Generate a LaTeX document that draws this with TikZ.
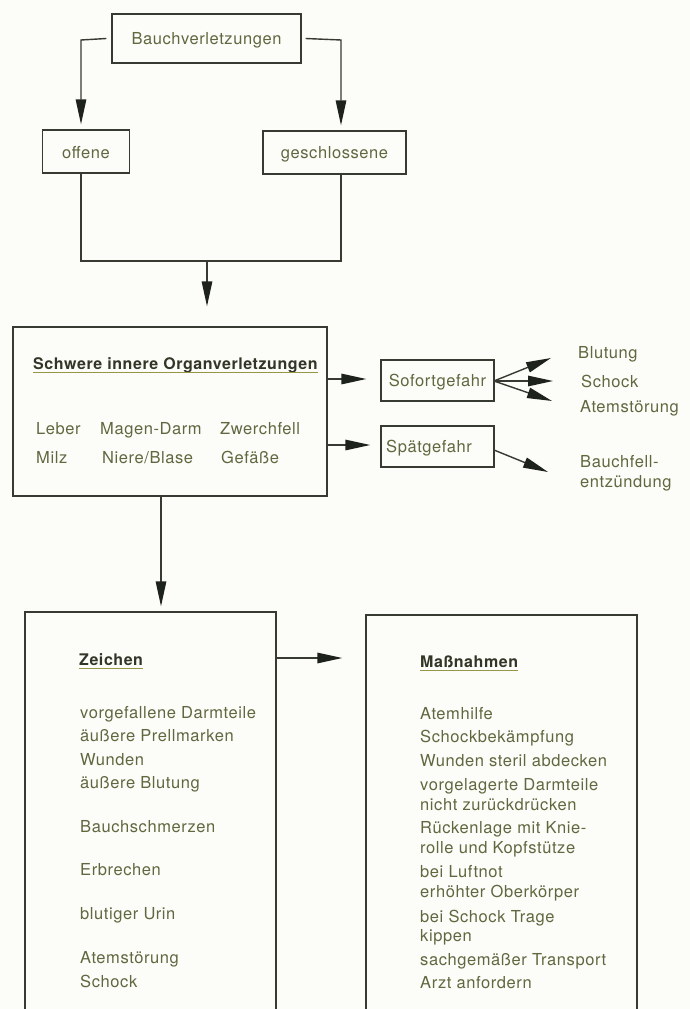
\documentclass[tikz,border=0pt]{standalone}
\usepackage{fontspec}
\setmainfont{TeX Gyre Heros}[LetterSpace=3.5]
\usetikzlibrary{arrows.meta}
\definecolor{bg}{RGB}{252,252,249}
\definecolor{ln}{RGB}{55,58,48}
\definecolor{arrc}{RGB}{30,34,28}
\definecolor{tx}{RGB}{95,104,62}
\definecolor{tt}{RGB}{50,54,38}
\definecolor{ulc}{RGB}{150,150,70}
\tikzset{
  box/.style={draw=ln, line width=1.4pt, inner sep=0pt, fill=none},
  lbl/.style={inner sep=0pt, anchor=base west, text=tx, font=\fontsize{16.5}{19}\selectfont},
  ttl/.style={inner sep=0pt, anchor=base west, text=tt, font=\fontsize{16}{19}\selectfont\bfseries},
  ctr/.style={inner sep=0pt, text=tx, font=\fontsize{16.5}{19}\selectfont},
  conn/.style={draw=ln, line width=1.4pt},
  arr/.style={conn, -{Triangle[length=25pt,width=10.5pt,color=arrc]}},
  uline/.style={draw=ulc, line width=1.3pt}
}
\begin{document}
\begin{tikzpicture}[x=1pt,y=-1pt]
\useasboundingbox (0,0) rectangle (690,1009);
\fill[bg] (0,0) rectangle (690,1009);

% top boxes
\node[box, minimum width=189pt, minimum height=49pt] (bauch) at (206.5,38.5) {};
\node[ctr] (bauchT) at (206.5,40) {Bauchverletzungen};
\node[box, minimum width=87pt, minimum height=43pt] (offene) at (86,151.5) {};
\node[ctr] (offeneT) at (86,153) {offene};
\node[box, minimum width=143pt, minimum height=43pt] (geschl) at (334.5,152.5) {};
\node[ctr] (geschlT) at (334.5,154) {geschlossene};

\coordinate (ol) at (81,40);
\coordinate (or) at (341,40);
\coordinate (jl) at (81,261);
\coordinate (jr) at (341,261);
\coordinate (jm) at (207,261);

\draw[arr, shorten >=5pt] ([xshift=-5pt]bauch.west) -- (ol) -- (offene.north -| ol);
\draw[arr, shorten >=5pt] ([xshift=4pt]bauch.east) -- (or) -- (geschl.north -| or);
\draw[conn] (offene.south -| jl) -- (jl) -- (jr) -- (geschl.south -| jr);

% main box
\node[box, minimum width=314pt, minimum height=169pt] (main) at (170,411.5) {};
\draw[arr, shorten >=20pt] (jm) -- (main.north -| jm);

\node[ttl] (mainT) at (33,369) {Schwere innere Organverletzungen};
\draw[uline] ([yshift=-3.5pt]mainT.base west) -- ([yshift=-3.5pt]mainT.base east);
\node[lbl] (leber) at (36,434) {Leber};
\node[lbl] (magen) at (100,434) {Magen-Darm};
\node[lbl] (zwerch) at (220,434) {Zwerchfell};
\node[lbl] (milz) at (36,463) {Milz};
\node[lbl] (niere) at (102,463) {Niere/Blase};
\node[lbl] (gef) at (221,463) {Gefäße};

% danger boxes
\node[box, minimum width=113pt, minimum height=41pt] (sofort) at (437.5,380.5) {};
\node[ctr] (sofortT) at (437.5,382) {Sofortgefahr};
\node[box, minimum width=113pt, minimum height=41pt] (spaet) at (437.5,446.5) {};
\node[lbl] (spaetT) at (386,452) {Spätgefahr};

\coordinate (ma1) at (327,379);
\coordinate (ma2) at (327,445);
\draw[arr, shorten >=14pt] (ma1) -- (sofort.west |- ma1);
\draw[arr, shorten >=10pt] (ma2) -- (spaet.west |- ma2);

\coordinate (t1) at (551,358);
\coordinate (t2) at (553,381);
\coordinate (t3) at (552,401);
\coordinate (t4) at (548,472);
\coordinate (so) at (494,381);
\coordinate (sp) at (494,450);
\draw[arr] (so) -- (t1);
\draw[arr] (so) -- (t2);
\draw[arr] (so) -- (t3);
\draw[arr] (sp) -- (t4);

\node[lbl] (blut) at (578,358) {Blutung};
\node[lbl] (schock) at (581,387) {Schock};
\node[lbl] (atem) at (580,412) {Atemstörung};
\node[lbl] (bfell1) at (580,467) {Bauchfell-};
\node[lbl] (bfell2) at (580,487) {entzündung};

% bottom boxes
\node[box, minimum width=251pt, minimum height=420pt] (zeichen) at (150.5,822) {};
\node[box, minimum width=271pt, minimum height=420pt] (mass) at (501.5,825) {};
\coordinate (mb) at (161,496);
\draw[arr, shorten >=5pt] (mb) -- (zeichen.north -| mb);
\coordinate (za) at (276,658);
\draw[arr, shorten >=23pt] (za) -- (mass.west |- za);

\node[ttl] (zT) at (79,665) {Zeichen};
\draw[uline] ([yshift=-3.5pt]zT.base west) -- ([yshift=-3.5pt]zT.base east);
\node[lbl] (z1) at (80,718) {vorgefallene Darmteile};
\node[lbl] (z2) at (80,741) {äußere Prellmarken};
\node[lbl] (z3) at (80,765) {Wunden};
\node[lbl] (z4) at (80,788) {äußere Blutung};
\node[lbl] (z5) at (80,832) {Bauchschmerzen};
\node[lbl] (z6) at (80,875) {Erbrechen};
\node[lbl] (z7) at (80,919) {blutiger Urin};
\node[lbl] (z8) at (80,963) {Atemstörung};
\node[lbl] (z9) at (80,987) {Schock};

\node[ttl] (mT) at (420,667) {Maßnahmen};
\draw[uline] ([yshift=-3.5pt]mT.base west) -- ([yshift=-3.5pt]mT.base east);
\node[lbl] (m1) at (420,719) {Atemhilfe};
\node[lbl] (m2) at (420,742) {Schockbekämpfung};
\node[lbl] (m3) at (420,766) {Wunden steril abdecken};
\node[lbl] (m4) at (420,790) {vorgelagerte Darmteile};
\node[lbl] (m5) at (420,810) {nicht zurückdrücken};
\node[lbl] (m6) at (420,833) {Rückenlage mit Knie-};
\node[lbl] (m7) at (420,853) {rolle und Kopfstütze};
\node[lbl] (m8) at (420,877) {bei Luftnot};
\node[lbl] (m9) at (420,897) {erhöhter Oberkörper};
\node[lbl] (m10) at (420,922) {bei Schock Trage};
\node[lbl] (m11) at (420,941) {kippen};
\node[lbl] (m12) at (420,965) {sachgemäßer Transport};
\node[lbl] (m13) at (420,988) {Arzt anfordern};
\end{tikzpicture}
\end{document}
